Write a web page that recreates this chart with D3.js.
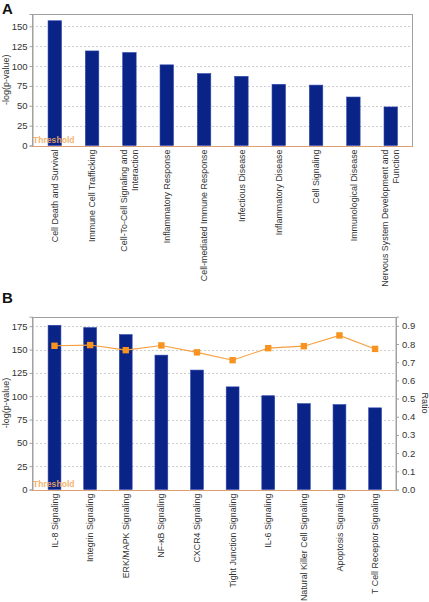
<!DOCTYPE html>
<html>
<head>
<meta charset="utf-8">
<script src="https://cdn.jsdelivr.net/npm/d3@7"></script>
<style>
  html, body { margin: 0; padding: 0; background: #fff; }
  svg { display: block; font-family: "Liberation Sans", Arial, sans-serif; }
</style>
</head>
<body>
<svg id="chart" width="429" height="602"></svg>
<script>
// ---- Data ----
const categoriesA = [
  ["Cell Death and Survival"],
  ["Immune Cell Trafficking"],
  ["Cell-To-Cell Signaling and", "Interaction"],
  ["Inflammatory Response"],
  ["Cell-mediated Immune Response"],
  ["Infectious Disease"],
  ["Inflammatory Disease"],
  ["Cell Signaling"],
  ["Immunological Disease"],
  ["Nervous System Development and", "Function"]
];
const valuesA = [157, 119, 117, 101.5, 90.5, 87, 77, 76, 61, 48.5];
const ticksA = [0, 25, 50, 75, 100, 125, 150];

const categoriesB = [
  "IL-8 Signaling", "Integrin Signaling", "ERK/MAPK Signaling", "NF-\u03baB Signaling",
  "CXCR4 Signaling", "Tight Junction Signaling", "IL-6 Signaling",
  "Natural Killer Cell Signaling", "Apoptosis Signaling", "T Cell Receptor Signaling"
];
const valuesB = [176, 173.5, 166, 144, 128, 110, 100.5, 92, 91, 87.5];
const ratioB = [0.790, 0.794, 0.766, 0.792, 0.754, 0.711, 0.777, 0.788, 0.847, 0.773];
const ticksB = [0, 25, 50, 75, 100, 125, 150, 175];
const ratioTicks = [0, 0.1, 0.2, 0.3, 0.4, 0.5, 0.6, 0.7, 0.8, 0.9];
const thresholdValue = 0;

// ---- Styles ----
const barColor = "#0a2387";
const barStroke = "#2b45b0";
const orange = "#f7931e";
const axisGray = "#a0a0a0";
const gridGray = "#cfcfcf";
const textColor = "#333";

const svg = d3.select("#chart");

function panel(opts) {
  const { left, right, top, bottom, bandRange, yMax, cats, vals, ticks, letter, letterY } = opts;
  const g = svg.append("g");
  const x = d3.scaleBand().domain(d3.range(cats.length)).range(bandRange)
    .paddingInner(0.64).paddingOuter(0.32);
  const y = d3.scaleLinear().domain([0, yMax]).range([bottom, top]);

  svg.append("text").attr("x", 2).attr("y", letterY).text(letter)
    .attr("font-size", 15).attr("font-weight", "bold").attr("fill", "#111");

  g.selectAll(".grid").data(ticks.filter(t => t > 0)).join("line")
    .attr("x1", left).attr("x2", right)
    .attr("y1", d => Math.round(y(d)) + 0.5).attr("y2", d => Math.round(y(d)) + 0.5)
    .attr("stroke", gridGray).attr("stroke-dasharray", "2,2").attr("stroke-width", 1);

  g.append("rect").attr("x", left + 0.5).attr("y", Math.round(top) + 0.5)
    .attr("width", right - left - 1).attr("height", Math.round(bottom) - Math.round(top))
    .attr("fill", "none").attr("stroke", axisGray);

  // threshold line (behind bars)
  g.append("line").attr("x1", left).attr("x2", right)
    .attr("y1", Math.round(y(thresholdValue)) + 0.5).attr("y2", Math.round(y(thresholdValue)) + 0.5)
    .attr("stroke", "#dca074").attr("stroke-width", 1.2);

  g.selectAll(".bar").data(vals).join("rect")
    .attr("x", (d, i) => x(i)).attr("width", x.bandwidth())
    .attr("y", d => y(d)).attr("height", d => y(0) - y(d))
    .attr("fill", barColor).attr("stroke", barStroke).attr("stroke-width", 0.6);

  const ax = g.append("g").attr("transform", `translate(${left + 0.5},0)`)
    .call(d3.axisLeft(y).tickValues(ticks).tickSize(3).tickPadding(2).tickFormat(d3.format("d")));
  ax.select(".domain").attr("stroke", axisGray);
  ax.selectAll(".tick line").attr("stroke", axisGray);
  ax.selectAll("text").attr("font-size", 9.5).attr("fill", textColor)
    .attr("font-family", "Liberation Sans, Arial, sans-serif");

  g.append("text").attr("transform", `translate(9,${(top + bottom) / 2}) rotate(-90)`)
    .attr("text-anchor", "middle").attr("font-size", 9).attr("fill", textColor)
    .text("-log(p-value)");

  g.append("text").attr("x", left + 1).attr("y", y(0) - 3)
    .attr("font-size", 8.6).attr("font-weight", "bold").attr("fill", "#f3ad62")
    .attr("opacity", 0.9).text("Threshold");

  const lbl = g.selectAll(".xl").data(cats).join("text")
    .attr("transform", (d, i) => `translate(${x(i) + x.bandwidth() / 2},${bottom + 4}) rotate(-90)`)
    .attr("text-anchor", "end").attr("font-size", 8.9).attr("fill", textColor);
  lbl.each(function (d) {
    const lines = Array.isArray(d) ? d : [d];
    const t = d3.select(this);
    const off = lines.length === 1 ? [3.1] : [-2.7, 8.7];
    lines.forEach((ln, k) => {
      t.append("tspan").attr("x", 0).attr("y", off[k]).text(ln);
    });
  });
  return { x, y, g };
}

panel({
  left: 32, right: 413, top: 14, bottom: 145.5,
  bandRange: [36.1, 409.4], yMax: 165.5,
  cats: categoriesA, vals: valuesA, ticks: ticksA, letter: "A", letterY: 14
});

const pB = panel({
  left: 32, right: 396.5, top: 316.7, bottom: 489.5,
  bandRange: [36.7, 392.9], yMax: 185.2,
  cats: categoriesB, vals: valuesB, ticks: ticksB, letter: "B", letterY: 303
});

const yR = d3.scaleLinear().domain([0, 0.95]).range([489.5, 316.7]);
const axR = pB.g.append("g").attr("transform", "translate(396,0)")
  .call(d3.axisRight(yR).tickValues(ratioTicks).tickSize(3).tickPadding(3).tickFormat(d3.format(".1f")));
axR.select(".domain").attr("stroke", axisGray);
axR.selectAll(".tick line").attr("stroke", axisGray);
axR.selectAll("text").attr("font-size", 9.5).attr("fill", textColor)
  .attr("font-family", "Liberation Sans, Arial, sans-serif");
pB.g.append("text").attr("transform", `translate(421.5,403) rotate(90)`)
  .attr("text-anchor", "middle").attr("font-size", 9).attr("fill", textColor).text("Ratio");

const cx = i => pB.x(i) + pB.x.bandwidth() / 2;
pB.g.append("path").datum(ratioB)
  .attr("d", d3.line().x((d, i) => cx(i)).y(d => yR(d)))
  .attr("fill", "none").attr("stroke", "#f5a040").attr("stroke-width", 1.1);
pB.g.selectAll(".mk").data(ratioB).join("rect")
  .attr("x", (d, i) => cx(i) - 3.2).attr("y", d => yR(d) - 3.2)
  .attr("width", 6.4).attr("height", 6.4).attr("fill", orange);
</script>
</body>
</html>
